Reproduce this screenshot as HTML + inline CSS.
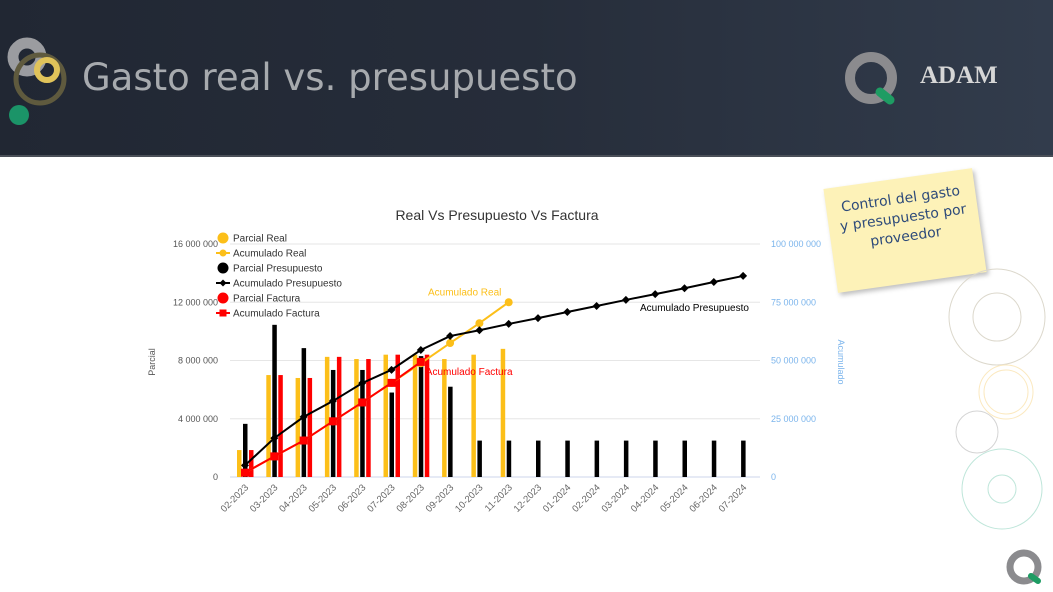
<!DOCTYPE html>
<html><head><meta charset="utf-8">
<style>
html,body{margin:0;padding:0;width:1053px;height:592px;overflow:hidden;background:#fff;font-family:"Liberation Sans","DejaVu Sans",sans-serif;}
#header{position:absolute;left:0;top:0;width:1053px;height:155px;background:linear-gradient(90deg,#212733 0%,#262d3a 50%,#323c4c 100%);border-bottom:2px solid #4a4f58;}
#title{position:absolute;left:82px;top:56px;font-size:37px;color:#a7aaae;font-family:"DejaVu Sans","Liberation Sans",sans-serif;letter-spacing:0px;}
#note{position:absolute;left:830px;top:178px;width:150px;height:105px;background:#fdf2b8;transform:rotate(-8deg);box-shadow:2px 3px 5px rgba(0,0,0,.25);text-align:center;color:#2d4a7a;font-size:14px;line-height:19px;padding-top:12px;box-sizing:border-box;font-family:"DejaVu Sans",sans-serif;}
</style></head><body>
<div id="header">
<svg width="80" height="140" style="position:absolute;left:0;top:0">
<circle cx="27" cy="57" r="14" fill="none" stroke="#9b9ca0" stroke-width="11"/>
<circle cx="40" cy="79" r="24" fill="none" stroke="#5f5a3e" stroke-width="5"/>
<circle cx="47" cy="70" r="10" fill="none" stroke="#e0c35a" stroke-width="6"/>
<circle cx="19" cy="115" r="10" fill="#1b9468"/>
</svg>
<div id="title">Gasto real vs. presupuesto</div>
<svg width="60" height="60" style="position:absolute;left:840px;top:48px">
<circle cx="31" cy="30" r="21" fill="none" stroke="#8b8b8e" stroke-width="10"/>
<path d="M40 44 L50 52" stroke="#1e9c63" stroke-width="9" stroke-linecap="round"/>
</svg>
<div style="position:absolute;left:920px;top:62px;font-family:'Liberation Serif',serif;font-weight:bold;font-size:25px;color:#d6d6d6">ADAM</div>
</div>

<div id="note">Control del gasto<br>y presupuesto por<br>proveedor</div>

<svg width="1053" height="592" style="position:absolute;left:0;top:0">
<circle cx="997" cy="317" r="48" fill="none" stroke="#dcd8cc" stroke-width="1"/>
<circle cx="997" cy="317" r="24" fill="none" stroke="#dcd8cc" stroke-width="1"/>
<circle cx="1006" cy="392" r="27" fill="none" stroke="#fbe9c0" stroke-width="1"/>
<circle cx="1006" cy="392" r="22" fill="none" stroke="#fbe9c0" stroke-width="1"/>
<circle cx="977" cy="432" r="21" fill="none" stroke="#d4d4d4" stroke-width="1"/>
<circle cx="1002" cy="489" r="40" fill="none" stroke="#bfe6da" stroke-width="1"/>
<circle cx="1002" cy="489" r="14" fill="none" stroke="#bfe6da" stroke-width="1"/>
<circle cx="1024" cy="567" r="14" fill="none" stroke="#8b8b8e" stroke-width="7"/>
<path d="M1031 576 L1038 581" stroke="#1e9c63" stroke-width="6" stroke-linecap="round"/>
</svg>

<svg id="chart" width="1053" height="592" style="position:absolute;left:0;top:0"></svg>

<script>
const categories=["02-2023","03-2023","04-2023","05-2023","06-2023","07-2023","08-2023","09-2023","10-2023","11-2023","12-2023","01-2024","02-2024","03-2024","04-2024","05-2024","06-2024","07-2024"];
const parcialReal=[1.85,7.0,6.8,8.25,8.1,8.4,8.4,8.1,8.4,8.8];
const parcialPresupuesto=[3.65,10.45,8.85,7.35,7.35,5.8,8.3,6.2,2.5,2.5,2.5,2.5,2.5,2.5,2.5,2.5,2.5,2.5];
const parcialFactura=[1.85,7.0,6.8,8.25,8.1,8.4,8.4];
const acumReal=[1.85,8.85,15.65,23.9,32,40.4,48.8,57.5,66,75];
const acumPresupuesto=[5,16.7,25.8,32.6,40.3,46,54.5,60.5,63,65.7,68.2,70.8,73.4,76,78.5,81,83.7,86.3];
const acumFactura=[1.85,8.85,15.65,23.9,32,40.4,49.4];
const leftTicks=[0,4,8,12,16];
const leftTickLabels=["0","4 000 000","8 000 000","12 000 000","16 000 000"];
const rightTicks=[0,25,50,75,100];
const rightTickLabels=["0","25 000 000","50 000 000","75 000 000","100 000 000"];

const svg=document.getElementById('chart');
const NS='http://www.w3.org/2000/svg';
const X0=230,X1=760,Y0=477,YT=244,cx0=245,step=29.3;
const xC=i=>cx0+i*step;
const yL=v=>Y0-v/16*(Y0-YT);
const yR=v=>Y0-v/100*(Y0-YT);
function mk(tag,attrs,parent){const e=document.createElementNS(NS,tag);for(const k in attrs)e.setAttribute(k,attrs[k]);(parent||svg).appendChild(e);return e;}
function txt(s,attrs){const t=mk('text',attrs);t.textContent=s;return t;}

let t=txt("Real Vs Presupuesto Vs Factura",{x:497,y:220,'text-anchor':'middle','font-size':14,fill:'#333'});



leftTicks.forEach((v,i)=>{
 const g=mk('line',{x1:X0,x2:X1,y1:yL(v),y2:yL(v),stroke:i==0?'#ccd6eb':'#e6e6e6','stroke-width':1});
 
 
 const l=txt(leftTickLabels[i],{x:218,y:yL(v)+3,'text-anchor':'end','font-size':9,fill:'#555'});
 
 
});
rightTicks.forEach((v,i)=>{
 const l=txt(rightTickLabels[i],{x:771,y:yR(v)+3,'font-size':9,fill:'#7cb5ec'});
 
 
});
let a=txt("Parcial",{x:155,y:362,'font-size':9,fill:'#555',transform:'rotate(-90 155 362)','text-anchor':'middle'});


a=txt("Acumulado",{x:838,y:362,'font-size':9,fill:'#7cb5ec',transform:'rotate(90 838 362)','text-anchor':'middle'});



categories.forEach((c,i)=>{
 const l=txt(c,{x:xC(i)+4,y:488,'font-size':9.5,fill:'#666','text-anchor':'end',transform:`rotate(-45 ${xC(i)+4} 488)`});
 
 
});

function bars(arr,off,color,name){arr.forEach((v,i)=>{
 const r=mk('rect',{x:xC(i)+off-2,y:yL(v),width:4.5,height:Y0-yL(v),fill:color});
 
 
});}
bars(parcialReal,-6,'#fcbf19','bar-parcial-real');
bars(parcialPresupuesto,0,'#000','bar-parcial-presupuesto');
bars(parcialFactura,6,'#ff0000','bar-parcial-factura');

function line(arr,color,name,marker){
 const pts=arr.map((v,i)=>[xC(i),yR(v)]);
 let d='M'+pts.map(p=>p.join(' ')).join(' L');
 const p=mk('path',{d:d,fill:'none',stroke:color,'stroke-width':2});
 
 
 pts.forEach(([x,y])=>{
  let m;
  if(marker=='circle')m=mk('circle',{cx:x,cy:y,r:4,fill:color});
  else if(marker=='square')m=mk('rect',{x:x-4,y:y-4,width:8,height:8,fill:color});
  else m=mk('path',{d:`M${x} ${y-4} L${x+4} ${y} L${x} ${y+4} L${x-4} ${y} Z`,fill:color});
  
  
 });
}
line(acumReal,'#fcbf19','line-acumulado-real','circle');
line(acumPresupuesto,'#000','line-acumulado-presupuesto','diamond');
line(acumFactura,'#ff0000','line-acumulado-factura','square');

let lb=txt("Acumulado Real",{x:xC(9)-44,y:yR(acumReal[9])-7,'font-size':10,fill:'#fcbf19','text-anchor':'middle'});


lb=txt("Acumulado Factura",{x:xC(6)+5,y:yR(acumFactura[6])+13,'font-size':10,fill:'#ff0000'});


lb=txt("Acumulado Presupuesto",{x:640,y:311,'font-size':10,fill:'#000'});



const legendNames=["Parcial Real","Acumulado Real","Parcial Presupuesto","Acumulado Presupuesto","Parcial Factura","Acumulado Factura"];
const legendColors=['#fcbf19','#fcbf19','#000','#000','#ff0000','#ff0000'];
legendNames.forEach((n,i)=>{
 const y=238+i*15;
 const g=mk('g',{});
 
 
 const c=legendColors[i];
 if(i%2==0)mk('circle',{cx:223,cy:y,r:5.5,fill:c},g);
 else{mk('line',{x1:216,x2:230,y1:y,y2:y,stroke:c,'stroke-width':2},g);
  if(i==1)mk('circle',{cx:223,cy:y,r:3.5,fill:c},g);
  else if(i==3)mk('path',{d:`M223 ${y-3.5} L226.5 ${y} L223 ${y+3.5} L219.5 ${y} Z`,fill:c},g);
  else mk('rect',{x:219.5,y:y-3.5,width:7,height:7,fill:c},g);}
 const tt=mk('text',{x:233,y:y+3.5,'font-size':10,fill:'#333'},g);tt.textContent=n;
});
</script>
</body></html>
